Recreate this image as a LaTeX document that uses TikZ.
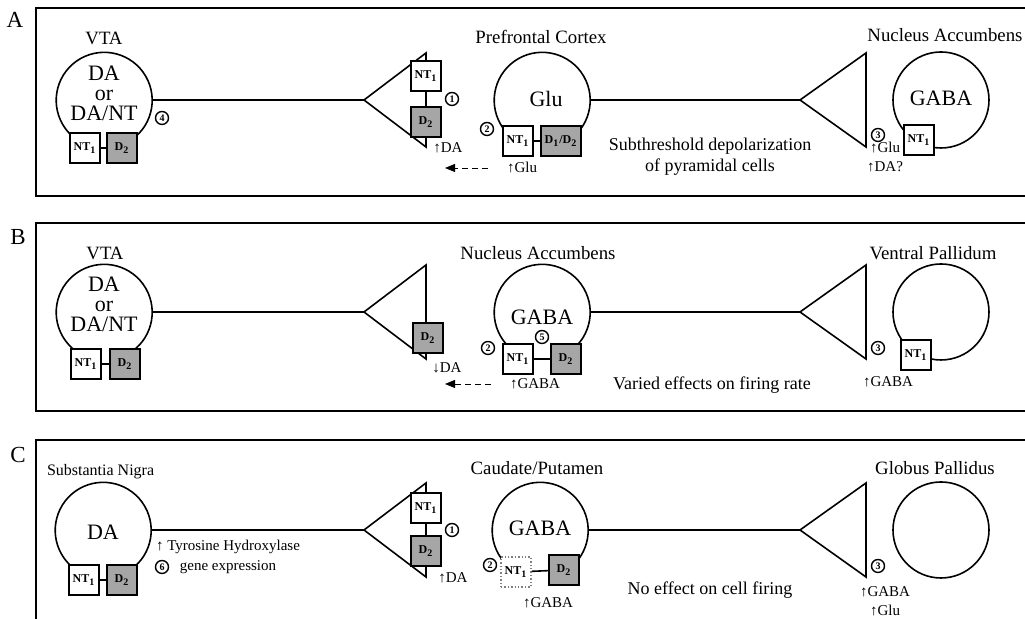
\documentclass[tikz,border=0pt]{standalone}
\usepackage{fontspec}
\setmainfont{Liberation Serif}
\usetikzlibrary{arrows.meta}
\tikzset{
  frame/.style={line width=1.1pt},
  wire/.style={line width=0.8pt},
  cell/.style={circle, minimum size=48pt, inner sep=0pt},
  rbox/.style={draw, line width=0.7pt, fill=white, minimum size=15pt, inner sep=0pt, font=\fontsize{6}{6}\selectfont\bfseries},
  dbox/.style={rbox, fill=black!35},
  num/.style={circle, draw, line width=0.7pt, inner sep=0.3pt, minimum size=6.5pt, font=\fontsize{5}{5}\selectfont\bfseries},
  region/.style={font=\fontsize{9.4}{10}\selectfont},
  transm/.style={font=\fontsize{11}{10}\selectfont, align=center},
  note/.style={font=\fontsize{7.5}{9.5}\selectfont, align=center},
  effect/.style={font=\fontsize{9}{10.5}\selectfont, align=center},
  panel/.style={font=\fontsize{11.5}{12}\selectfont},
  feedback/.style={densely dashed, line width=0.4pt, -{Triangle[length=5pt,width=4pt]}}
}
\def\NT{NT\textsubscript{1}}
\def\DD{D\textsubscript{2}}

\begin{document}
\begin{tikzpicture}[x=0.5pt, y=0.5pt]
\useasboundingbox (0,0) rectangle (1025,619);
% frames
\foreach \t/\b in {611/423, 396/208}
  \draw[frame] (1025,\t) -- (36,\t) -- (36,\b) -- (1025,\b);
\draw[frame] (1025,179) -- (36,179) -- (36,0);
\node[panel] (pA) at (15,599) {A};
\node[panel] (pB) at (18,382) {B};
\node[panel] (pC) at (18,164) {C};

% ---------- A ----------
\node[region] (vtaAlbl) at (104,581) {VTA};
\node[cell] (vtaA) at (104,519) {};
\draw[wire] (vtaA.-60) arc[start angle=-60, end angle=240, radius=24pt];
\node[transm] (vtaAtx) at (104,526) {DA\\or\\DA/NT};
\node[rbox] (vtaAnt) at (85,471) {\NT};
\node[dbox] (vtaAd) at (122,471) {\DD};
\draw[wire] (vtaAnt) -- (vtaAd);
\node[num] (nA4) at (162,501) {4};
\coordinate (tA1) at (364,519);
\draw[wire] (vtaA.east) -- (tA1);
\draw[wire] (tA1) -- ++(62,47) -- ++(0,-94) -- cycle;
\node[rbox] (tA1nt) at (426,543) {\NT};
\node[dbox] (tA1d) at (426,497) {\DD};
\draw[wire] (tA1nt) -- (tA1d);
\node[num] (nA1) at (452,520) {1};
\node[note] (daA) at (448,471) {↑DA};

\node[region] (pfcAlbl) at (541,582) {Prefrontal Cortex};
\node[cell] (pfcA) at (542,519) {};
\draw[wire] (pfcA.-60) arc[start angle=-60, end angle=240, radius=24pt];
\node[transm] (pfcAtx) at (546,520) {Glu};
\node[rbox] (pfcAnt) at (518,478) {\NT};
\node[dbox, minimum width=20pt] (pfcAd) at (561,478) {D\textsubscript{1}/D\textsubscript{2}};
\draw[wire] (pfcAnt) -- (pfcAd);
\node[num] (nA2) at (487,490) {2};
\node[note] (gluA) at (522,451) {↑Glu};
\coordinate (fbA) at (445,451);
\draw[feedback] ([xshift=-6pt]gluA.west) -- (fbA);
\node[effect] (effA) at (710,462) {Subthreshold depolarization\\of pyramidal cells};

\coordinate (tA2) at (800,519);
\draw[wire] (pfcA.east) -- (tA2);
\draw[wire] (tA2) -- ++(66,47) -- ++(0,-94) -- cycle;
\node[num] (nA3) at (878,484) {3};
\node[note] (gluA2) at (885,462) {↑Glu\\↑DA?};
\node[region] (nacAlbl) at (945,584) {Nucleus Accumbens};
\node[cell, draw, wire] (nacA) at (941,519) {};
\node[transm] (nacAtx) at (941,521) {GABA};
\node[rbox] (nacAnt) at (919,479) {\NT};

% ---------- B ----------
\node[region] (vtaBlbl) at (105,366) {VTA};
\node[cell] (vtaB) at (104,307) {};
\draw[wire] (vtaB.-60) arc[start angle=-60, end angle=240, radius=24pt];
\node[transm] (vtaBtx) at (104,315) {DA\\or\\DA/NT};
\node[rbox] (vtaBnt) at (86,255) {\NT};
\node[dbox] (vtaBd) at (125,255) {\DD};
\draw[wire] (vtaBnt) -- (vtaBd);
\coordinate (tB1) at (364,307);
\draw[wire] (vtaB.east) -- (tB1);
\draw[wire] (tB1) -- ++(62,47) -- ++(0,-94) -- cycle;
\node[dbox] (tB1d) at (428,281) {\DD};
\node[note] (daB) at (447,251) {↓DA};

\node[region] (nacBlbl) at (538,366) {Nucleus Accumbens};
\node[cell] (nacB) at (542,307) {};
\draw[wire] (nacB.-60) arc[start angle=-60, end angle=240, radius=24pt];
\node[transm] (nacBtx) at (542,302) {GABA};
\node[rbox] (nacBnt) at (518,260) {\NT};
\node[dbox] (nacBd) at (566,260) {\DD};
\draw[wire] (nacBnt) -- (nacBd);
\node[num] (nB2) at (488,271) {2};
\node[num] (nB5) at (542,282) {5};
\node[note] (gabaB) at (535,235) {↑GABA};
\coordinate (fbB) at (445,235);
\draw[feedback] ([xshift=-6pt]gabaB.west) -- (fbB);
\node[effect] (effB) at (712,234) {Varied effects on firing rate};

\coordinate (tB2) at (800,307);
\draw[wire] (nacB.east) -- (tB2);
\draw[wire] (tB2) -- ++(66,47) -- ++(0,-94) -- cycle;
\node[num] (nB3) at (878,271) {3};
\node[note] (gabaB2) at (888,237) {↑GABA};
\node[region] (vpBlbl) at (933,366) {Ventral Pallidum};
\node[cell, draw, wire] (vpB) at (941,307) {};
\node[rbox] (vpBnt) at (916,264) {\NT};

% ---------- C ----------
\node[region, font=\fontsize{8}{9}\selectfont, anchor=west] (snClbl) at (40,147) {Substantia Nigra};
\node[cell] (snC) at (103,89) {};
\draw[wire] (snC.-60) arc[start angle=-60, end angle=240, radius=24pt];
\node[transm] (snCtx) at (103,87) {DA};
\node[rbox] (snCnt) at (84,39) {\NT};
\node[dbox] (snCd) at (122,39) {\DD};
\draw[wire] (snCnt) -- (snCd);
\node[note] (thC) at (228,72) {↑ Tyrosine Hydroxylase};
\node[note] (geneC) at (228,52) {gene expression};
\node[num] (nC6) at (162,52) {6};
\coordinate (tC1) at (364,89);
\draw[wire] (snC.east) -- (tC1);
\draw[wire] (tC1) -- ++(62,47) -- ++(0,-94) -- cycle;
\node[rbox] (tC1nt) at (426,111) {\NT};
\node[dbox] (tC1d) at (426,68) {\DD};
\draw[wire] (tC1nt) -- (tC1d);
\node[num] (nC1) at (452,89) {1};
\node[note] (daC) at (453,41) {↑DA};

\node[region] (cpClbl) at (537,151) {Caudate/Putamen};
\node[cell] (cpC) at (540,89) {};
\draw[wire] (cpC.-60) arc[start angle=-60, end angle=240, radius=24pt];
\node[transm] (cpCtx) at (540,91) {GABA};
\node[rbox, draw=gray, densely dotted] (cpCnt) at (516,47) {\NT};
\node[dbox] (cpCd) at (564,49) {\DD};
\draw[wire] (cpCnt) -- (cpCd);
\node[num] (nC2) at (490,54) {2};
\node[note] (gabaC) at (548,16) {↑GABA};
\node[effect] (effC) at (710,29) {No effect on cell firing};

\coordinate (tC2) at (800,89);
\draw[wire] (cpC.east) -- (tC2);
\draw[wire] (tC2) -- ++(66,47) -- ++(0,-94) -- cycle;
\node[num] (nC3) at (878,53) {3};
\node[note] (gabaC2) at (885,18) {↑GABA\\↑Glu};
\node[region] (gpClbl) at (935,151) {Globus Pallidus};
\node[cell, draw, wire] (gpC) at (941,89) {};
\end{tikzpicture}
\end{document}
